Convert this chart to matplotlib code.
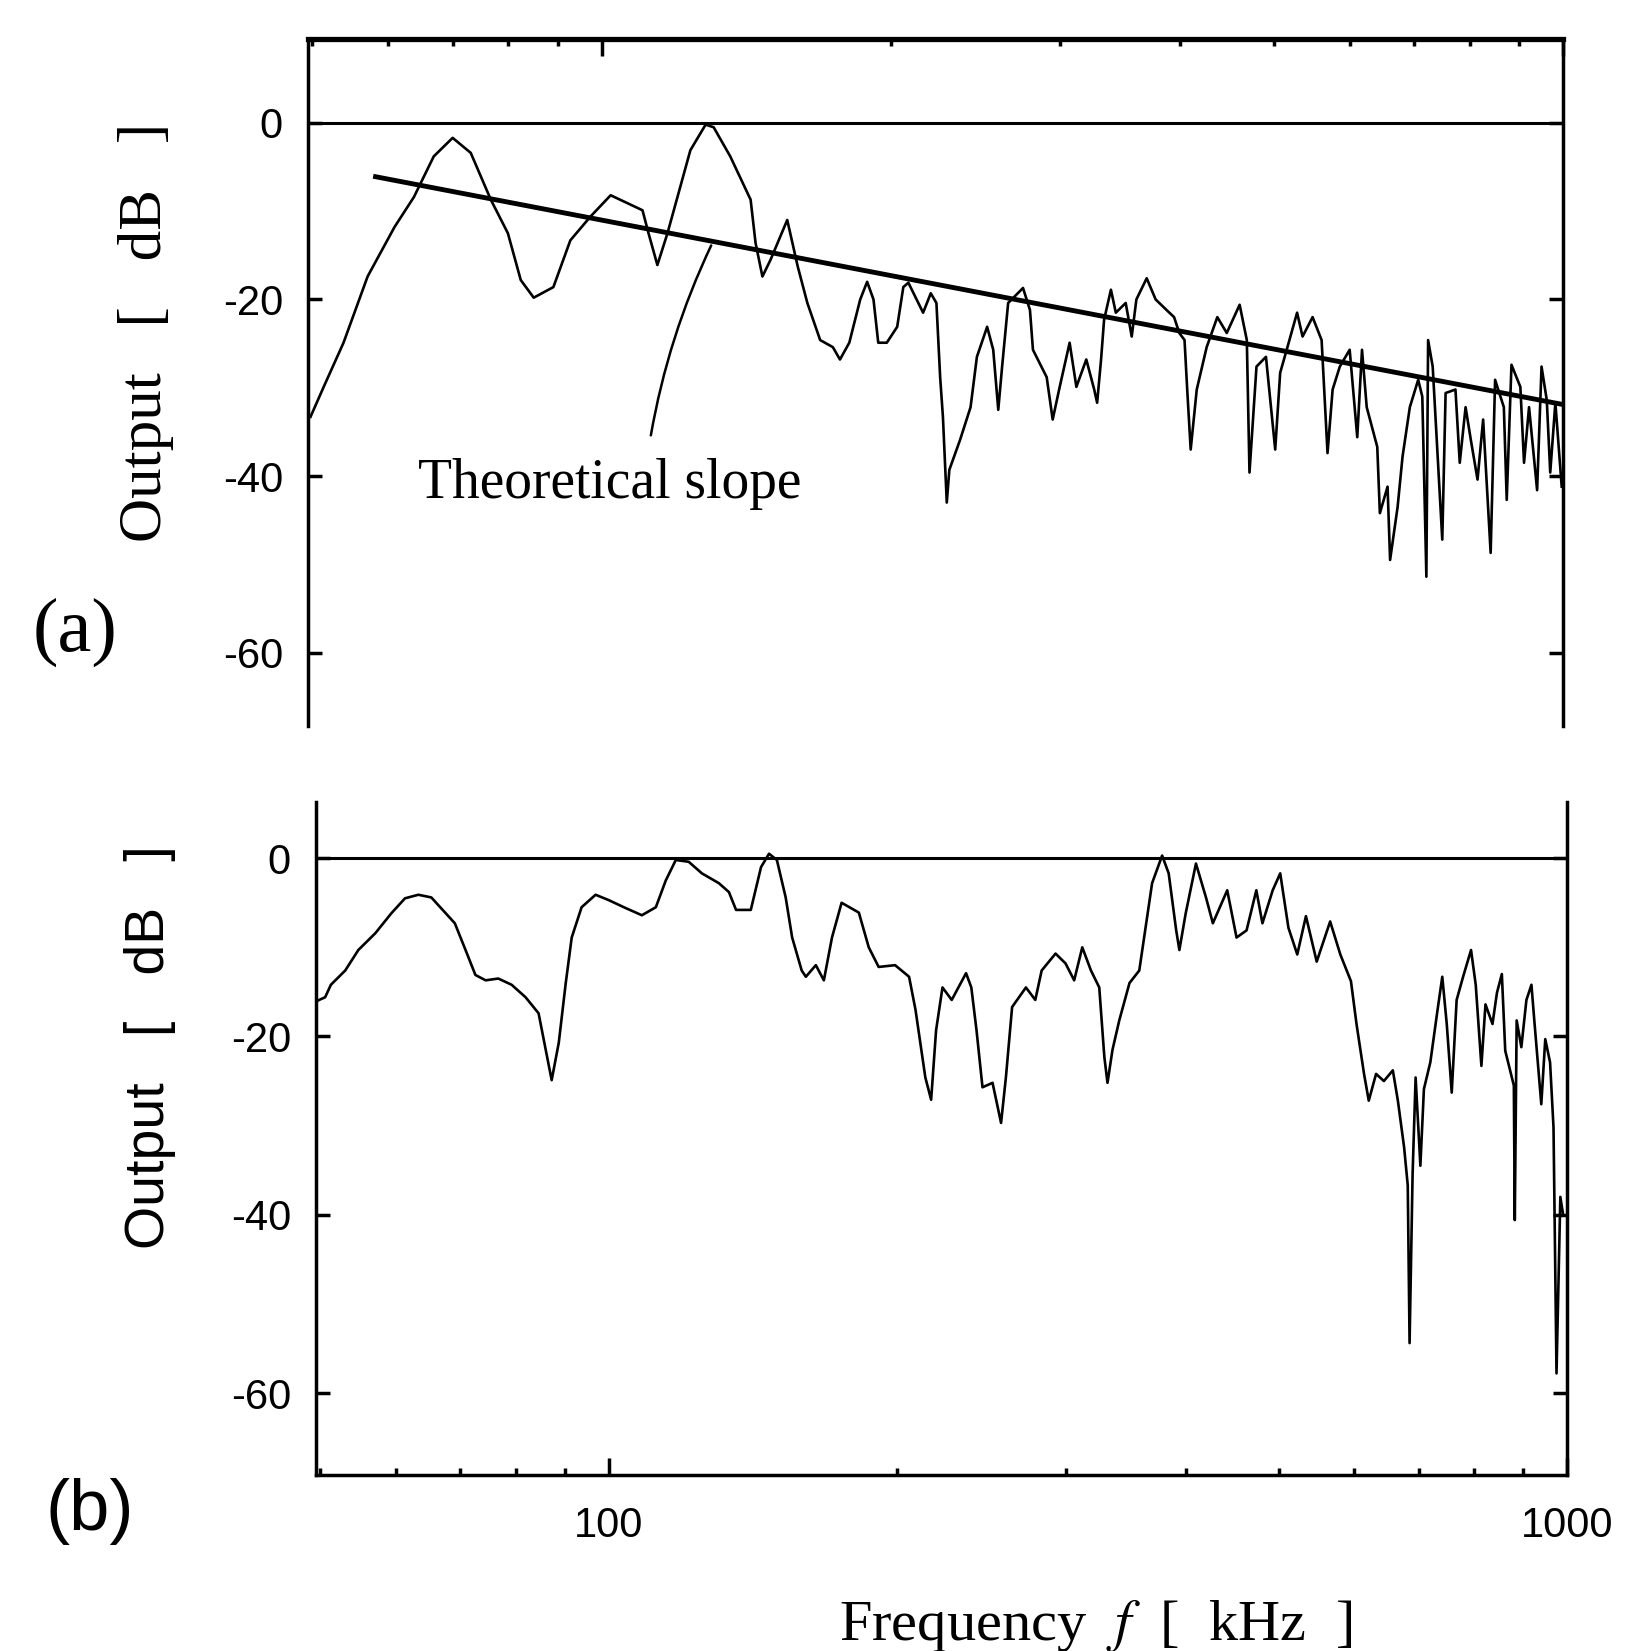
import matplotlib
matplotlib.use("Agg")
import matplotlib.pyplot as plt
from matplotlib.ticker import FixedLocator, NullFormatter, LogLocator
import numpy as np

plt.rcParams['axes.unicode_minus'] = False
plt.rcParams['mathtext.fontset'] = 'stix'

# (a) measured output, frequency in kHz / level in dB
f_a = [49.8, 51.4, 53.9, 57.1, 60.9, 63.8, 66.9, 70.0, 73.1, 76.7, 79.9, 82.4, 85.0, 89.1,
       92.8, 97.4, 102.2, 110.3, 111.9, 114.3, 117.1, 123.7, 128.3, 130.8, 136.1, 142.9,
       144.6, 147.0, 149.9, 156.0, 160.0, 163.7, 168.8, 174, 177, 181, 185.8, 188.9, 191.8,
       194, 198, 203, 206, 208.5, 216, 220, 223, 225, 226.5, 228.6, 230, 236, 242, 245.7,
       251.8, 255.5, 258.6, 261, 264.8, 274.4, 279, 281, 290.4, 294.6, 299.6, 306.8, 311.8,
       319.3, 325.4, 327.7, 330.8, 333.2, 338.7, 342.7, 350.9, 356, 360, 369, 377, 387, 394,
       399, 404, 406.6, 410, 416, 426, 437, 447, 461, 469, 472, 480, 491, 502, 508, 516, 529,
       536, 549, 561, 569, 576, 586, 600, 611, 618, 625, 641, 645, 657, 661, 673, 681, 693,
       707, 714, 721, 724, 732, 749, 755, 773, 781, 792, 802, 815, 826, 841, 850, 868, 874,
       884, 903, 911, 922, 940, 950, 962, 970, 982, 997]
db_a = [-33.3, -29.9, -24.9, -17.4, -11.8, -8.4, -3.8, -1.7, -3.4, -8.7, -12.5, -17.8, -19.8,
        -18.6, -13.3, -10.6, -8.2, -9.9, -12.5, -16.1, -12.5, -3.1, -0.2, -0.5, -3.8, -8.7,
        -13.6, -17.4, -15.5, -11.0, -16.3, -20.4, -24.6, -25.4, -26.8, -24.9, -20.0, -18.0,
        -20.0, -24.9, -24.9, -23.1, -18.6, -18.1, -21.5, -19.3, -20.4, -28.8, -33.3, -43.0,
        -39.3, -35.9, -32.2, -26.5, -23.1, -25.7, -32.5, -27.6, -20.4, -18.7, -21.2, -25.7,
        -28.8, -33.6, -29.9, -24.9, -29.9, -26.8, -30.2, -31.7, -26.8, -22.3, -18.9, -21.5,
        -20.4, -24.2, -20.0, -17.6, -20.0, -21.2, -22.0, -23.8, -24.6, -30.2, -37.0, -30.2,
        -25.4, -22.0, -23.8, -20.6, -24.6, -39.6, -27.6, -26.5, -37.0, -28.3, -25.7, -21.5,
        -24.2, -22.0, -24.6, -37.4, -30.2, -27.6, -25.7, -35.6, -25.7, -32.2, -36.7, -44.2,
        -41.2, -49.5, -43.5, -37.8, -32.2, -29.1, -31.0, -51.4, -24.6, -27.6, -47.2, -30.6,
        -30.2, -38.5, -32.2, -35.9, -40.4, -33.6, -48.7, -29.1, -32.2, -42.7, -27.4, -29.9,
        -38.5, -32.2, -41.6, -27.6, -31.4, -39.6, -31.7, -41.2]

# theoretical slope line
slope_f = [58.2, 1000]
slope_db = [-6.1, -31.9]

# (b) measured output
f_b = [49.4, 50.6, 51.3, 53.1, 54.8, 57.1, 59.3, 61.3, 63.3, 65.3, 67.5, 69.1, 70.9, 72.6,
       74.4, 76.7, 79.2, 81.9, 84.5, 86.1, 87.2, 88.7, 90.2, 91.5, 93.7, 96.9, 100, 104.2,
       108.3, 112, 114.7, 117.5, 121.2, 125.1, 130.3, 133.5, 135.8, 140.7, 144.2, 147.0,
       149.8, 153.0, 155.4, 159, 160.6, 164.5, 167.7, 171, 175, 182.4, 186.8, 191.3, 199,
       205.8, 209, 214, 217, 219.6, 223, 228, 236, 239, 242, 245.5, 251.5, 256.7, 259.7,
       263.6, 272.5, 278.7, 283, 292.6, 299.7, 306, 312, 318.6, 325, 329, 331.5, 335.5, 341,
       349.5, 357.8, 362, 369, 378, 384, 391, 394, 400, 410, 420, 427, 442, 452, 463, 474,
       481, 493, 502, 512, 523, 534, 548, 566, 580, 595, 603, 614, 621, 632, 644, 658, 666,
       676, 682, 685, 690, 695, 703, 709, 720, 732, 741, 749, 758, 767, 779, 794, 803, 814,
       822, 836, 845, 855, 862, 880, 882, 886, 896, 907, 918, 925, 940, 949, 960, 968, 975,
       984, 991]
db_b = [-16.1, -15.6, -14.2, -12.6, -10.3, -8.4, -6.2, -4.5, -4.1, -4.4, -6.1, -7.3, -10.3,
        -13.1, -13.7, -13.5, -14.2, -15.6, -17.4, -21.9, -24.9, -20.7, -14.0, -8.9, -5.5,
        -4.1, -4.7, -5.6, -6.4, -5.5, -2.5, -0.2, -0.4, -1.7, -2.8, -3.8, -5.8, -5.8, -1.0,
        0.5, -0.2, -4.4, -8.9, -12.6, -13.3, -12.0, -13.7, -8.9, -5.0, -6.1, -10.0, -12.2,
        -12.0, -13.3, -17.0, -24.6, -27.1, -19.3, -14.5, -15.9, -12.9, -14.5, -19.3, -25.7,
        -25.2, -29.7, -24.6, -16.7, -14.5, -15.9, -12.6, -10.7, -11.8, -13.7, -10.0, -12.6,
        -14.5, -22.3, -25.2, -21.5, -18.2, -14.0, -12.6, -8.9, -2.8, 0.3, -1.7, -8.1, -10.3,
        -6.2, -0.6, -4.4, -7.3, -3.6, -8.9, -8.1, -3.6, -7.3, -3.6, -1.7, -7.8, -10.8, -6.5,
        -11.6, -7.1, -10.8, -13.8, -18.6, -24.2, -27.2, -24.2, -25.0, -23.8, -27.2, -32.4,
        -36.7, -54.4, -35.4, -24.6, -34.5, -25.9, -22.9, -17.3, -13.3, -18.6, -26.3, -15.9,
        -13.3, -10.3, -14.2, -23.3, -16.4, -18.6, -15.1, -13.0, -21.6, -25.5, -40.6, -18.2,
        -21.2, -15.9, -14.2, -18.6, -27.6, -20.3, -22.9, -30.2, -57.8, -38.0, -40.1]

y_ticks = [0, -20, -40, -60]
x_ticks = [100, 1000]
x_ticklabels = ['100', '1000']

serif = 'Liberation Serif'
sans = 'Liberation Sans'

fig = plt.figure(figsize=(16.39, 16.51), dpi=100)
ax1 = fig.add_axes([0.1879, 0.5603, 0.7657, 0.4161])
ax2 = fig.add_axes([0.1928, 0.1066, 0.7633, 0.4076])


def style(ax, ylim, xside):
    ax.set_xscale('log')
    ax.set_xlim(49.5, 1000)
    ax.set_ylim(*ylim)
    ax.axhline(0, color='black', lw=2.2)
    ax.set_yticks(y_ticks)
    ax.set_yticklabels([str(v) for v in y_ticks], fontfamily=sans, fontsize=30)
    ax.tick_params(axis='y', which='major', direction='in', length=10, width=2.5,
                   left=True, right=True, pad=18)
    ax.xaxis.set_major_locator(FixedLocator(x_ticks))
    ax.xaxis.set_minor_locator(LogLocator(base=10, subs=np.arange(2, 10)))
    ax.xaxis.set_minor_formatter(NullFormatter())
    top = xside == 'top'
    ax.tick_params(axis='x', which='both', direction='in', top=top, bottom=not top,
                   labeltop=False, labelbottom=not top, width=2.5)
    ax.tick_params(axis='x', which='major', length=12, pad=22)
    ax.tick_params(axis='x', which='minor', length=5)
    for s in ax.spines.values():
        s.set_linewidth(2.5)


style(ax1, (-68.3, 9.5), 'top')
ax1.spines['bottom'].set_visible(False)
ax1.spines['top'].set_linewidth(3.8)
ax1.set_xticklabels([])
ax1.plot(f_a, db_a, color='black', lw=1.9)
ax1.plot(slope_f, slope_db, color='black', lw=3.5)
ax1.annotate('', xy=(130.4, -13.6), xytext=(112.4, -35.7),
             arrowprops=dict(arrowstyle='-', color='black', lw=1.8,
                             connectionstyle='arc3,rad=-0.07'))
ax1.text(64.5, -42.5, 'Theoretical slope', fontfamily=serif, fontsize=40,
         ha='left', va='baseline')

style(ax2, (-69.2, 6.3), 'bottom')
ax2.spines['top'].set_visible(False)
ax2.set_xticklabels(x_ticklabels, fontfamily=sans, fontsize=30)
ax2.plot(f_b, db_b, color='black', lw=1.9)

fig.text(146 / 1639, 1 - 332 / 1651, 'Output   [   dB   ]', rotation=90, fontfamily=serif,
         fontsize=44, ha='center', va='center')
fig.text(150 / 1639, 1 - 1047 / 1651, 'Output   [   dB   ]', rotation=90, fontfamily=sans,
         fontsize=40, ha='center', va='center')
fig.text(75 / 1639, 1 - 632 / 1651, '(a)', fontfamily=serif, fontsize=55,
         ha='center', va='center')
fig.text(90 / 1639, 1 - 1511 / 1651, '(b)', fontfamily=sans, fontsize=52,
         ha='center', va='center')
fig.text(1096 / 1639, 1 - 1640 / 1651, r'Frequency  $\mathit{f}$  [  kHz  ]', fontfamily=serif,
         fontsize=42, ha='center', va='baseline')

fig.savefig('out.png', dpi=100, facecolor='white')
